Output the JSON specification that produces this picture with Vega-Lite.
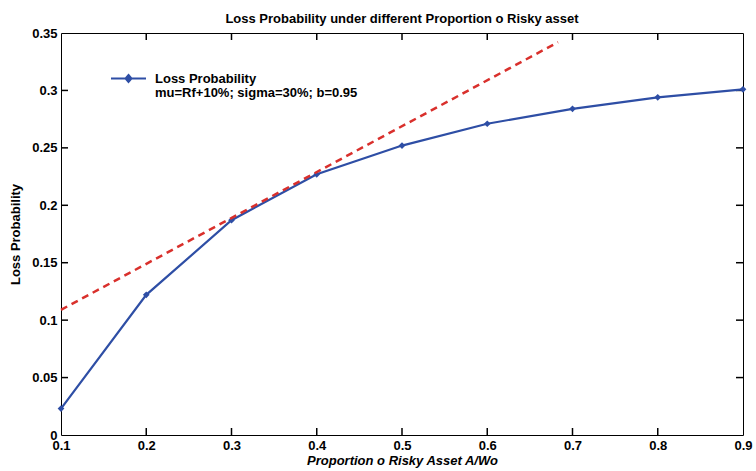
{
  "$schema": "https://vega.github.io/schema/vega-lite/v6.json",
  "width": 682,
  "height": 402,
  "autosize": {"type": "none"},
  "padding": {"left": 61, "top": 33, "right": 13, "bottom": 36},
  "background": "white",
  "title": {"text": "Loss Probability under different Proportion o Risky asset", "font": "Liberation Sans", "fontSize": 13, "fontWeight": "bold", "color": "black", "anchor": "middle", "offset": 1},
  "config": {
    "view": {"stroke": "black", "strokeWidth": 1},
    "axis": {"grid": false, "domain": false, "ticks": false, "labelFlush": false, "labelOverlap": false, "labelFont": "Liberation Sans", "labelFontSize": 13, "labelFontWeight": "bold", "labelColor": "black", "titleFont": "Liberation Sans", "titleFontSize": 13, "titleFontWeight": "bold", "titleColor": "black"}
  },
  "datasets": {
    "loss": [
      {"p": 0.1, "prob": 0.023, "series": "Loss Probability"},
      {"p": 0.2, "prob": 0.122, "series": "Loss Probability"},
      {"p": 0.3, "prob": 0.187, "series": "Loss Probability"},
      {"p": 0.4, "prob": 0.227, "series": "Loss Probability"},
      {"p": 0.5, "prob": 0.252, "series": "Loss Probability"},
      {"p": 0.6, "prob": 0.271, "series": "Loss Probability"},
      {"p": 0.7, "prob": 0.284, "series": "Loss Probability"},
      {"p": 0.8, "prob": 0.294, "series": "Loss Probability"},
      {"p": 0.9, "prob": 0.301, "series": "Loss Probability"}
    ],
    "tangent": [
      {"p": 0.1, "prob": 0.109},
      {"p": 0.683, "prob": 0.342}
    ],
    "xticks": [{"v": 0.2}, {"v": 0.3}, {"v": 0.4}, {"v": 0.5}, {"v": 0.6}, {"v": 0.7}, {"v": 0.8}],
    "yticks": [{"v": 0.05}, {"v": 0.1}, {"v": 0.15}, {"v": 0.2}, {"v": 0.25}, {"v": 0.3}]
  },
  "layer": [
    {
      "data": {"name": "xticks"},
      "mark": {"type": "tick", "orient": "vertical", "size": 14, "thickness": 1.5, "color": "black", "opacity": 1, "clip": true},
      "encoding": {
        "x": {"field": "v", "type": "quantitative"},
        "y": {"datum": 0, "type": "quantitative"}
      }
    },
    {
      "data": {"name": "xticks"},
      "mark": {"type": "tick", "orient": "vertical", "size": 14, "thickness": 1.5, "color": "black", "opacity": 1, "clip": true},
      "encoding": {
        "x": {"field": "v", "type": "quantitative"},
        "y": {"datum": 0.35, "type": "quantitative"}
      }
    },
    {
      "data": {"name": "yticks"},
      "mark": {"type": "tick", "orient": "horizontal", "size": 14, "thickness": 1.5, "color": "black", "opacity": 1, "clip": true},
      "encoding": {
        "y": {"field": "v", "type": "quantitative"},
        "x": {"datum": 0.1, "type": "quantitative"}
      }
    },
    {
      "data": {"name": "yticks"},
      "mark": {"type": "tick", "orient": "horizontal", "size": 14, "thickness": 1.5, "color": "black", "opacity": 1, "clip": true},
      "encoding": {
        "y": {"field": "v", "type": "quantitative"},
        "x": {"datum": 0.9, "type": "quantitative"}
      }
    },
    {
      "data": {"name": "loss"},
      "mark": {"type": "line", "strokeWidth": 2.2, "point": {"filled": true, "shape": "diamond", "size": 45}},
      "encoding": {
        "x": {"field": "p", "type": "quantitative", "scale": {"domain": [0.1, 0.9], "nice": false, "zero": false},
              "axis": {"orient": "bottom", "values": [0.1,0.2,0.3,0.4,0.5,0.6,0.7,0.8,0.9], "format": ".1f", "labelPadding": 4, "title": "Proportion o Risky Asset A/Wo", "titleFontStyle": "italic", "titlePadding": 2}},
        "y": {"field": "prob", "type": "quantitative", "scale": {"domain": [0, 0.35], "nice": false},
              "axis": {"orient": "left", "values": [0,0.05,0.1,0.15,0.2,0.25,0.3,0.35], "labelExpr": "format(datum.value, '~g')", "labelPadding": 4, "title": "Loss Probability", "titlePadding": 9}},
        "color": {"field": "series", "type": "nominal", "scale": {"domain": ["Loss Probability"], "range": ["#2E4EA5"]},
                  "legend": {"orient": "none", "legendX": 49, "legendY": 27, "title": null, "padding": 0,
                             "symbolType": "M-1,0H1M0,-0.2L0.17,0L0,0.2L-0.17,0Z", "symbolSize": 1225, "symbolStrokeWidth": 2,
                             "labelFont": "Liberation Sans", "labelFontSize": 13, "labelFontWeight": "bold", "labelColor": "black", "labelOffset": 8, "labelLimit": 400,
                             "labelExpr": "['Loss Probability', 'mu=Rf+10%; sigma=30%; b=0.95']",
                             "encode": {"symbols": {"update": {"fill": {"value": "#2E4EA5"}, "stroke": {"value": "#2E4EA5"}}}, "labels": {"update": {"lineHeight": {"value": 14}}}}}}
      }
    },
    {
      "data": {"name": "tangent"},
      "mark": {"type": "line", "color": "#D9302C", "strokeWidth": 2.5, "strokeDash": [7, 5]},
      "encoding": {
        "x": {"field": "p", "type": "quantitative"},
        "y": {"field": "prob", "type": "quantitative"}
      }
    }
  ]
}
